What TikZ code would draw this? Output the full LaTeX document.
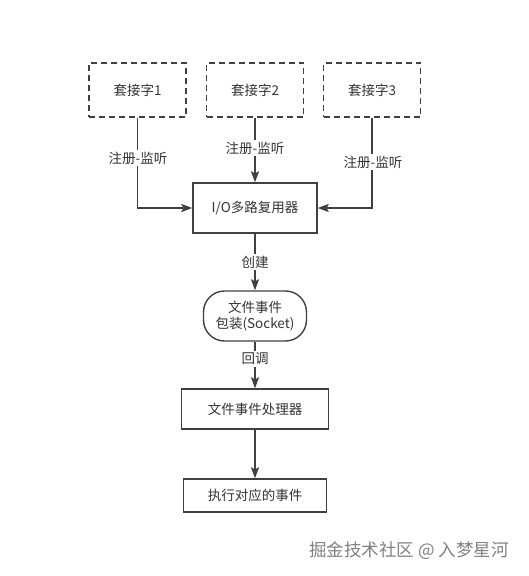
\documentclass[tikz,border=0pt]{standalone}
\usepackage{fontspec}
\setmainfont{Noto Sans CJK SC}
\usetikzlibrary{arrows.meta}
\definecolor{linegray}{HTML}{404040}
\definecolor{textgray}{HTML}{333333}
\begin{document}
\begin{tikzpicture}[x=1pt,y=-1pt,
    box/.style={draw=linegray, line width=1.4pt, text=textgray, inner sep=0pt,
      font=\fontsize{13.5}{16.5}\selectfont, align=center},
    sockbox/.style={box, dash pattern=on 6pt off 4pt, minimum width=97pt, minimum height=54pt},
    conn/.style={draw=linegray, line width=1.4pt, -{Stealth[length=11pt,width=8pt,inset=2pt]}},
    lbl/.style={fill=white, text=textgray, inner sep=1.5pt, font=\fontsize{13.5}{15}\selectfont}]
  \useasboundingbox (0,0) rectangle (528,576);
  \node[sockbox] (S1) at (137.5, 90) {套接字1};
  \node[sockbox] (S2) at (255, 90) {套接字2};
  \node[sockbox] (S3) at (372, 90) {套接字3};
  \node[box, minimum width=124pt, minimum height=50pt] (IO) at (255, 208) {I/O多路复用器};
  \node[box, minimum width=103pt, minimum height=50pt, rounded corners=21pt] (W) at (255, 316) {文件事件\\包装(Socket)};
  \node[box, minimum width=147pt, minimum height=40pt] (H) at (255, 409) {文件事件处理器};
  \node[box, minimum width=143pt, minimum height=33pt] (E) at (255, 495.5) {执行对应的事件};
  \draw[conn] (S1) |- (IO);
  \draw[conn] (S2) -- (IO);
  \draw[conn] (S3) |- (IO);
  \draw[conn] (IO) -- (W);
  \draw[conn] (W) -- (H);
  \draw[conn] (H) -- (E);
  % labels on the lines
  \node[lbl] (L1) at (138, 158) {注册-监听};
  \node[lbl] (L2) at (255, 148) {注册-监听};
  \node[lbl] (L3) at (373, 162) {注册-监听};
  \node[lbl] (LC) at (255, 262) {创建};
  \node[lbl] (LB) at (255, 359) {回调};
  \node[text=gray, font=\fontsize{17.5}{20}\selectfont] (WM) at (409, 551) {掘金技术社区 @ 入梦星河};
\end{tikzpicture}
\end{document}
